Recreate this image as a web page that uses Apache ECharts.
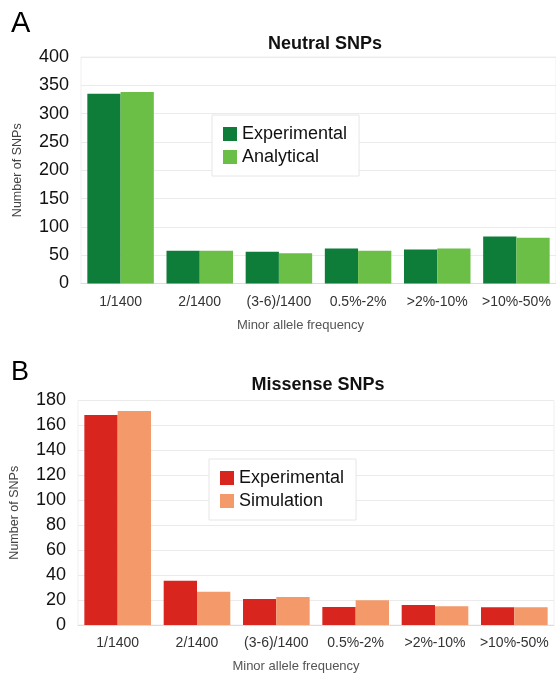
<!DOCTYPE html>
<html><head><meta charset="utf-8">
<script src="https://cdn.jsdelivr.net/npm/echarts@6/dist/echarts.min.js"></script>
<style>html,body{margin:0;padding:0;background:#fff}#c{width:556px;height:674px}</style>
</head><body><div id="c"></div>
<script>
const categories = ['1/1400','2/1400','(3-6)/1400','0.5%-2%','>2%-10%','>10%-50%'];
const neutralExperimental = [335, 58, 56, 62, 60, 83];
const neutralAnalytical = [338, 58, 53.5, 58, 62, 81];
const missenseExperimental = [168.4, 35.5, 20.8, 14.4, 16, 14.2];
const missenseSimulation = [171.6, 26.7, 22.4, 19.8, 15, 14.2];
const neutralTicks = {min: 0, max: 400, interval: 50};
const missenseTicks = {min: 0, max: 180, interval: 20};

const FONT = '"Liberation Sans", Arial, sans-serif';
const C = {dg:'#0e7d3a', lg:'#6bbf47', r:'#d8261f', o:'#f3996a'};

const chart = echarts.init(document.getElementById('c'), null, {renderer:'canvas'});
function xAx(gi, shift, margin){
  return {gridIndex:gi, type:'category', data:categories,
    axisLine:{show:true, lineStyle:{color:'#dcdcdc'}}, axisTick:{show:false},
    axisLabel:{color:'#333', fontSize:14, fontFamily:FONT, margin:margin, interval:0},
    name:'Minor allele frequency', nameLocation:'middle', nameGap:35,
    nameTextStyle:{color:'#555', fontSize:13, fontFamily:FONT, padding:[0, shift, 0, 0]}};
}
function yAx(gi, t){
  return {gridIndex:gi, type:'value', min:t.min, max:t.max, interval:t.interval,
    axisLine:{show:false}, axisTick:{show:false},
    axisLabel:{color:'#111', fontSize:18, fontFamily:FONT, margin:12},
    splitLine:{lineStyle:{color:'#ebebeb'}},
    name:'Number of SNPs', nameLocation:'middle', nameGap:57,
    nameTextStyle:{color:'#444', fontSize:12.5, fontFamily:FONT}};
}
function bar(name, data, color, gi){
  return {type:'bar', name, data, xAxisIndex:gi, yAxisIndex:gi,
    itemStyle:{color}, barGap:'0%', barCategoryGap:'16%', animation:false};
}
function legend(names, left, top){
  return {data:names, orient:'vertical', left, top,
     padding:[10,12,10,11], itemGap:5, itemWidth:14, itemHeight:14, icon:'rect',
     backgroundColor:'#fff', borderColor:'#e6e6e6', borderWidth:1,
     formatter:n=>n.replace(' (B)',''),
     textStyle:{fontSize:18, fontFamily:FONT, color:'#111'}};
}
chart.setOption({
  animation:false,
  title:[
    {text:'Neutral SNPs', left:320, top:30, textAlign:'center', textStyle:{fontSize:18, fontWeight:'bold', fontFamily:FONT, color:'#111'}},
    {text:'Missense SNPs', left:313, top:371, textAlign:'center', textStyle:{fontSize:18, fontWeight:'bold', fontFamily:FONT, color:'#111'}},
    {text:'A', left:11, top:9, padding:0, textStyle:{fontSize:29, fontWeight:'normal', fontFamily:FONT, color:'#000'}},
    {text:'B', left:11, top:359, padding:0, textStyle:{fontSize:27, fontWeight:'normal', fontFamily:FONT, color:'#000'}}
  ],
  grid:[
    {left:81, width:477, top:57, height:226.5, show:true, borderColor:'#efefef', borderWidth:1},
    {left:77, width:477, top:400.5, height:224.5, show:true, borderColor:'#efefef', borderWidth:1}
  ],
  xAxis:[xAx(0, 36, 12), xAx(1, 40, 11)],
  yAxis:[yAx(0, neutralTicks), yAx(1, missenseTicks)],
  legend:[
    legend(['Experimental','Analytical'], 212, 115),
    legend(['Experimental (B)','Simulation'], 209, 459)
  ],
  series:[
    bar('Experimental', neutralExperimental, C.dg, 0),
    bar('Analytical', neutralAnalytical, C.lg, 0),
    bar('Experimental (B)', missenseExperimental, C.r, 1),
    bar('Simulation', missenseSimulation, C.o, 1)
  ]
});
</script></body></html>
